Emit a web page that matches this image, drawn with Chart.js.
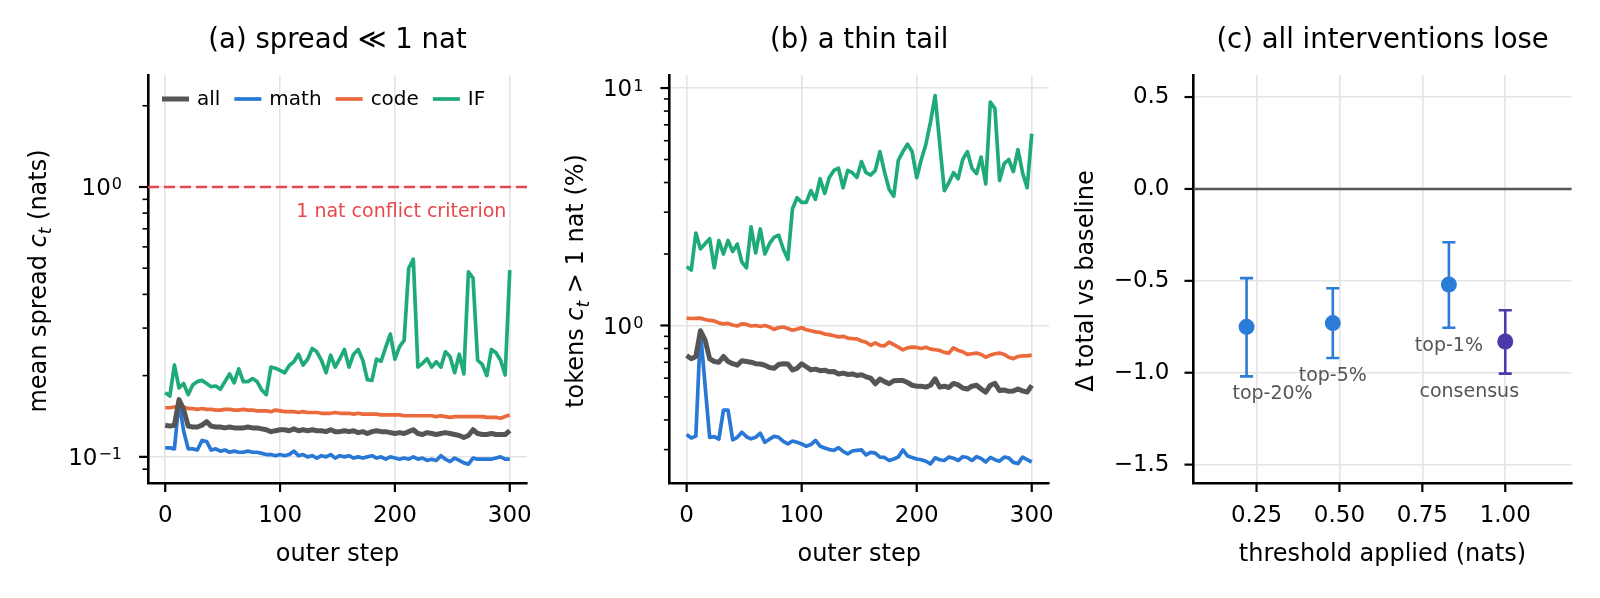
<!DOCTYPE html>
<html>
<head>
<meta charset="utf-8">
<script src="https://cdn.jsdelivr.net/npm/chart.js@4.4.1/dist/chart.umd.min.js"></script>
<style>
  body { margin: 0; background: #fff; }
  #fig { position: relative; width: 1600px; height: 598px; }
  .panel { position: absolute; top: 0; height: 598px; }
</style>
</head>
<body>
<div id="fig">
  <div class="panel" style="left:0;width:540px"><canvas id="chartA"></canvas></div>
  <div class="panel" style="left:540px;width:520px"><canvas id="chartB"></canvas></div>
  <div class="panel" style="left:1060px;width:540px"><canvas id="chartC"></canvas></div>
</div>
<script>
// ---- data ----
const steps = [0,4,8,12,16,20,24,28,32,36,40,44,48,52,56,60,64,68,72,76,80,84,88,92,96,100,104,108,112,116,120,124,128,132,136,140,144,148,152,156,160,164,168,172,176,180,184,188,192,196,200,204,208,212,216,220,224,228,232,236,240,244,248,252,256,260,264,268,272,276,280,284,288,292,296,300];
const seriesNames = ['all', 'math', 'code', 'IF'];

// (a) mean spread c_t (nats)
const spreadAll = [0.131,0.130,0.131,0.163,0.150,0.130,0.129,0.129,0.131,0.135,
  0.130,0.129,0.129,0.128,0.129,0.128,0.128,0.128,0.129,0.128,
  0.128,0.127,0.126,0.124,0.125,0.126,0.126,0.125,0.127,0.125,
  0.126,0.125,0.126,0.125,0.125,0.124,0.126,0.124,0.124,0.125,
  0.124,0.125,0.123,0.124,0.122,0.124,0.125,0.124,0.124,0.123,
  0.122,0.123,0.122,0.124,0.126,0.122,0.121,0.123,0.122,0.121,
  0.122,0.123,0.122,0.121,0.120,0.118,0.120,0.126,0.122,0.121,
  0.121,0.122,0.121,0.121,0.121,0.125];
const spreadMath = [0.108,0.108,0.107,0.160,0.125,0.107,0.107,0.106,0.115,0.114,
  0.106,0.107,0.105,0.106,0.104,0.105,0.104,0.104,0.105,0.104,
  0.104,0.103,0.102,0.102,0.101,0.102,0.101,0.102,0.105,0.101,
  0.102,0.100,0.101,0.099,0.101,0.100,0.102,0.099,0.101,0.100,
  0.101,0.099,0.100,0.099,0.100,0.101,0.099,0.100,0.098,0.100,
  0.099,0.098,0.099,0.098,0.100,0.098,0.099,0.097,0.098,0.097,
  0.101,0.098,0.096,0.099,0.097,0.095,0.094,0.099,0.098,0.098,
  0.098,0.098,0.099,0.100,0.098,0.098];
const spreadCode = [0.152,0.152,0.153,0.154,0.153,0.151,0.151,0.150,0.151,0.150,
  0.150,0.149,0.149,0.150,0.150,0.149,0.149,0.150,0.149,0.149,
  0.148,0.148,0.148,0.147,0.149,0.148,0.147,0.147,0.147,0.146,
  0.147,0.146,0.146,0.146,0.145,0.145,0.145,0.146,0.145,0.145,
  0.145,0.144,0.145,0.144,0.144,0.144,0.144,0.143,0.143,0.143,
  0.143,0.143,0.142,0.142,0.142,0.142,0.142,0.142,0.142,0.141,
  0.142,0.141,0.140,0.141,0.141,0.141,0.141,0.141,0.141,0.141,
  0.140,0.140,0.140,0.139,0.141,0.143];
const spreadIF = [0.173,0.168,0.219,0.180,0.187,0.170,0.185,0.190,0.192,0.187,
  0.182,0.183,0.178,0.190,0.203,0.188,0.212,0.190,0.190,0.195,
  0.190,0.177,0.170,0.215,0.213,0.209,0.205,0.218,0.225,0.240,
  0.219,0.230,0.252,0.245,0.228,0.205,0.238,0.215,0.231,0.250,
  0.215,0.240,0.250,0.228,0.193,0.192,0.230,0.226,0.255,0.285,
  0.230,0.256,0.270,0.500,0.540,0.215,0.222,0.231,0.215,0.225,
  0.215,0.245,0.235,0.205,0.240,0.203,0.485,0.460,0.228,0.220,
  0.200,0.250,0.243,0.228,0.201,0.492];

// (b) tokens with c_t > 1 nat (%)
const tailAll = [0.747,0.724,0.740,0.950,0.870,0.724,0.705,0.700,0.740,0.705,
  0.690,0.680,0.710,0.705,0.700,0.690,0.688,0.680,0.665,0.660,
  0.685,0.690,0.688,0.650,0.660,0.690,0.670,0.650,0.655,0.645,
  0.648,0.638,0.640,0.625,0.630,0.622,0.625,0.616,0.620,0.608,
  0.600,0.568,0.595,0.580,0.568,0.585,0.587,0.587,0.575,0.560,
  0.555,0.555,0.550,0.560,0.596,0.550,0.555,0.548,0.570,0.562,
  0.545,0.540,0.555,0.560,0.540,0.524,0.560,0.570,0.532,0.535,
  0.528,0.530,0.540,0.530,0.524,0.559];
const tailMath = [0.347,0.336,0.342,0.950,0.560,0.338,0.340,0.332,0.440,0.440,
  0.330,0.338,0.355,0.340,0.333,0.338,0.352,0.322,0.332,0.341,
  0.338,0.325,0.317,0.326,0.322,0.317,0.310,0.315,0.328,0.310,
  0.305,0.300,0.298,0.306,0.295,0.288,0.296,0.298,0.299,0.285,
  0.292,0.290,0.279,0.278,0.270,0.274,0.279,0.299,0.282,0.278,
  0.274,0.272,0.268,0.261,0.277,0.272,0.270,0.279,0.276,0.270,
  0.280,0.278,0.270,0.280,0.275,0.266,0.278,0.272,0.268,0.279,
  0.277,0.265,0.262,0.279,0.272,0.266];
const tailCode = [1.074,1.070,1.072,1.074,1.060,1.050,1.045,1.025,1.015,1.020,
  1.005,0.995,1.016,1.010,0.995,1.000,0.990,1.000,0.985,0.962,
  0.980,0.985,0.970,0.955,0.965,0.978,0.960,0.950,0.940,0.935,
  0.920,0.915,0.905,0.895,0.900,0.885,0.880,0.878,0.860,0.850,
  0.825,0.845,0.825,0.820,0.850,0.830,0.810,0.790,0.805,0.810,
  0.808,0.800,0.810,0.795,0.790,0.785,0.770,0.765,0.805,0.785,
  0.775,0.755,0.760,0.765,0.755,0.735,0.750,0.760,0.765,0.755,
  0.735,0.725,0.740,0.745,0.745,0.750];
const tailIF = [1.77,1.71,2.45,2.10,2.21,2.32,1.75,2.28,2.00,2.28,
  2.05,2.20,1.85,1.75,2.60,2.02,2.55,2.00,2.21,2.35,
  2.40,2.10,1.90,3.10,3.45,3.30,3.30,3.70,3.40,4.15,
  3.60,4.20,4.50,4.60,3.80,4.50,4.40,4.20,4.90,4.40,
  4.30,4.50,5.40,4.43,3.75,3.50,4.96,5.40,5.80,5.40,
  4.19,5.00,5.80,7.20,9.30,5.83,3.70,4.00,4.40,4.15,
  5.00,5.40,4.60,4.36,5.12,3.95,8.73,8.19,4.08,4.80,
  5.00,4.45,5.50,4.40,3.80,6.42];

// (c) change in total score vs baseline
const interventions = ['top-20%', 'top-5%', 'top-1%', 'consensus'];
const thresholds = [0.22, 0.48, 0.83, 1.00];
const deltaMean = [-0.75, -0.73, -0.52, -0.83];
const deltaLow = [-1.02, -0.92, -0.755, -1.005];
const deltaHigh = [-0.485, -0.54, -0.29, -0.66];

const stepTicks = [0, 100, 200, 300];
const thresholdTicks = [0.25, 0.50, 0.75, 1.00];
const deltaTicks = [-1.5, -1.0, -0.5, 0.0, 0.5];

// ---- styling ----
const FONT = 'DejaVu Sans';
const seriesColors = ['#555555', '#2a78d6', '#ea6a3c', '#1eab78'];
const seriesWidths = [5.0, 3.7, 3.7, 3.7];
const GRID = '#e4e4e4';
const criterionColor = '#e6484c';
const pointColors = ['#2b7bd8', '#2b7bd8', '#2b7bd8', '#4b3aa8'];
const labelOffsets = [[26, 67], [0, 53], [0, 62], [-36, 51]];

Chart.defaults.font.family = FONT;
Chart.defaults.font.size = 23;
Chart.defaults.color = '#000';
Chart.defaults.animation = false;

function logTicks(min, max) {
  const out = [];
  for (let e = -2; e <= 2; e++) {
    for (let m = 1; m <= 9; m++) {
      const v = +(m * Math.pow(10, e)).toPrecision(3);
      if (v > min * 1.0001 && v <= max) out.push({ value: v, minor: m !== 1 });
    }
  }
  return out;
}
function fixedTicks(list) {
  return s => { s.ticks = list.map(v => ({ value: v })); };
}

function drawParts(ctx, parts, size) {
  const fonts = { n: `${size}px ${FONT}`, i: `italic ${size}px ${FONT}`, s: `italic ${Math.round(size * 0.7)}px ${FONT}` };
  let total = 0;
  parts.forEach(p => { ctx.font = fonts[p[1]]; total += ctx.measureText(p[0]).width; });
  let x = -total / 2;
  ctx.textAlign = 'left';
  ctx.textBaseline = 'alphabetic';
  parts.forEach(p => {
    ctx.font = fonts[p[1]];
    ctx.fillText(p[0], x, p[1] === 's' ? size * 0.22 : 0);
    x += ctx.measureText(p[0]).width;
  });
}

// 10^n tick labels with a real raised exponent, right-aligned
function drawPowerLabels(ctx, scale, right) {
  ctx.save();
  ctx.fillStyle = '#000';
  ctx.textBaseline = 'alphabetic';
  ctx.textAlign = 'right';
  scale.ticks.forEach(t => {
    if (t.minor) return;
    const p = scale.getPixelForValue(t.value);
    const exp = String(Math.round(Math.log10(t.value))).replace('-', '\u2212');
    ctx.font = `16px ${FONT}`;
    const w = ctx.measureText(exp).width;
    ctx.fillText(exp, right, p + 2.5);
    ctx.font = `23px ${FONT}`;
    ctx.fillText('10', right - w - 1, p + 8.4);
  });
  ctx.restore();
}

// ticks, titles and axis labels drawn the matplotlib way
const decor = {
  id: 'decor',
  afterDraw(chart, args, o) {
    const { ctx, chartArea: a, scales } = chart;
    ctx.save();
    ctx.strokeStyle = '#000';
    scales.y.ticks.forEach(t => {
      const p = scales.y.getPixelForValue(t.value);
      const len = t.minor ? 5.5 : 9;
      ctx.lineWidth = t.minor ? 1.6 : 2.2;
      ctx.beginPath(); ctx.moveTo(a.left - len, p); ctx.lineTo(a.left, p); ctx.stroke();
    });
    scales.x.ticks.forEach(t => {
      const p = scales.x.getPixelForValue(t.value);
      ctx.lineWidth = 2.2;
      ctx.beginPath(); ctx.moveTo(p, a.bottom); ctx.lineTo(p, a.bottom + 9); ctx.stroke();
    });
    if (o.powerLabels) drawPowerLabels(ctx, scales.y, a.left - 26);
    const cx = (a.left + a.right) / 2;
    ctx.fillStyle = '#000';
    ctx.textAlign = 'center';
    ctx.textBaseline = 'alphabetic';
    ctx.font = `27.5px ${FONT}`;
    ctx.fillText(o.title, cx, 48);
    ctx.font = `24px ${FONT}`;
    ctx.fillText(o.xlabel, cx, 561);
    ctx.translate(o.ylabelX, (a.top + a.bottom) / 2 + 2);
    ctx.rotate(-Math.PI / 2);
    drawParts(ctx, o.ylabel, 24);
    ctx.restore();
  }
};

// legend inside panel (a), like a frameless 4-column matplotlib legend
const lineLegend = {
  id: 'lineLegend',
  afterDraw(chart, args, o) {
    if (!o.show) return;
    const { ctx, chartArea: a } = chart;
    ctx.save();
    ctx.font = `20px ${FONT}`;
    ctx.textBaseline = 'middle';
    ctx.textAlign = 'left';
    let x = a.left + 14;
    const y = a.top + 24;
    chart.data.datasets.forEach(ds => {
      ctx.strokeStyle = ds.borderColor;
      ctx.lineWidth = ds.borderWidth;
      ctx.beginPath(); ctx.moveTo(x, y); ctx.lineTo(x + 27, y); ctx.stroke();
      x += 35;
      ctx.fillStyle = '#000';
      ctx.fillText(ds.label, x, y + 1);
      x += ctx.measureText(ds.label).width + 14;
    });
    ctx.restore();
  }
};

// 1-nat reference line
const criterion = {
  id: 'criterion',
  beforeDatasetsDraw(chart) {
    const { ctx, chartArea: a, scales: { x, y } } = chart;
    const py = y.getPixelForValue(1);
    ctx.save();
    ctx.strokeStyle = criterionColor;
    ctx.lineWidth = 2.6;
    ctx.setLineDash([11, 5]);
    ctx.beginPath(); ctx.moveTo(a.left, py); ctx.lineTo(a.right, py); ctx.stroke();
    ctx.setLineDash([]);
    ctx.fillStyle = criterionColor;
    ctx.font = `19px ${FONT}`;
    ctx.textAlign = 'right';
    ctx.textBaseline = 'alphabetic';
    ctx.fillText('1 nat conflict criterion', x.getPixelForValue(297), py + 30);
    ctx.restore();
  }
};

// zero line, error bars and point names for panel (c)
const errorBars = {
  id: 'errorBars',
  beforeDatasetsDraw(chart) {
    const { ctx, chartArea: a, scales: { x, y } } = chart;
    ctx.save();
    const p0 = y.getPixelForValue(0);
    ctx.strokeStyle = '#555555';
    ctx.lineWidth = 2.4;
    ctx.beginPath(); ctx.moveTo(a.left, p0); ctx.lineTo(a.right, p0); ctx.stroke();
    thresholds.forEach((t, i) => {
      const px = x.getPixelForValue(t);
      const lo = y.getPixelForValue(deltaLow[i]);
      const hi = y.getPixelForValue(deltaHigh[i]);
      ctx.strokeStyle = pointColors[i];
      ctx.lineWidth = 2.6;
      ctx.beginPath();
      ctx.moveTo(px, lo); ctx.lineTo(px, hi);
      ctx.moveTo(px - 6.5, lo); ctx.lineTo(px + 6.5, lo);
      ctx.moveTo(px - 6.5, hi); ctx.lineTo(px + 6.5, hi);
      ctx.stroke();
    });
    ctx.restore();
  },
  afterDatasetsDraw(chart) {
    const { ctx, scales: { x, y } } = chart;
    ctx.save();
    ctx.fillStyle = '#555555';
    ctx.font = `19px ${FONT}`;
    ctx.textAlign = 'center';
    ctx.textBaseline = 'middle';
    interventions.forEach((name, i) => {
      const px = x.getPixelForValue(thresholds[i]);
      const py = y.getPixelForValue(deltaMean[i]);
      ctx.fillText(name, px + labelOffsets[i][0], py + labelOffsets[i][1]);
    });
    ctx.restore();
  }
};

function lineSets(arrays) {
  return arrays.map((arr, i) => ({
    label: seriesNames[i],
    data: steps.map((s, j) => ({ x: s, y: arr[j] })),
    borderColor: seriesColors[i],
    backgroundColor: seriesColors[i],
    borderWidth: seriesWidths[i],
    pointRadius: 0,
    tension: 0,
    borderJoinStyle: 'round'
  }));
}

function baseOptions(opts) {
  return {
    responsive: true,
    maintainAspectRatio: false,
    layout: { padding: { top: 75, right: opts.right, bottom: 0, left: 0 } },
    plugins: {
      legend: { display: false },
      tooltip: { enabled: false },
      decor: opts.decor,
      lineLegend: { show: !!opts.legend }
    },
    scales: {
      x: Object.assign({
        border: { display: true, color: '#000', width: 2.6 },
        grid: { color: GRID, lineWidth: 1.6, drawTicks: false },
        ticks: { padding: 19, autoSkip: false, maxRotation: 0 },
        afterFit: s => { s.height = 115; s.paddingLeft = 0; s.paddingRight = 0; }
      }, opts.x),
      y: Object.assign({
        border: { display: true, color: '#000', width: 2.6 },
        grid: {
          color: c => (c.tick && c.tick.minor) ? 'rgba(0,0,0,0)' : GRID,
          lineWidth: 1.6, drawTicks: false
        },
        ticks: { padding: opts.yPad, autoSkip: false },
        afterFit: s => { s.width = opts.left; s.paddingTop = 0; s.paddingBottom = 0; }
      }, opts.y)
    }
  };
}

new Chart(document.getElementById('chartA'), {
  type: 'line',
  data: { datasets: lineSets([spreadAll, spreadMath, spreadCode, spreadIF]) },
  options: baseOptions({
    right: 13, left: 148, yPad: 27, legend: true,
    decor: {
      title: '(a) spread \u226a 1 nat', xlabel: 'outer step', ylabelX: 46, powerLabels: true,
      ylabel: [['mean spread ', 'n'], ['c', 'i'], ['t', 's'], [' (nats)', 'n']]
    },
    x: { type: 'linear', min: -15, max: 315, afterBuildTicks: fixedTicks(stepTicks) },
    y: {
      type: 'logarithmic', min: 0.08, max: 2.6,
      afterBuildTicks: s => { s.ticks = logTicks(0.08, 2.6); },
      ticks: { autoSkip: false, callback: () => '' }
    }
  }),
  plugins: [criterion, lineLegend, decor]
});

new Chart(document.getElementById('chartB'), {
  type: 'line',
  data: { datasets: lineSets([tailAll, tailMath, tailCode, tailIF]) },
  options: baseOptions({
    right: 11, left: 129.4, yPad: 27,
    decor: {
      title: '(b) a thin tail', xlabel: 'outer step', ylabelX: 43.3, powerLabels: true,
      ylabel: [['tokens ', 'n'], ['c', 'i'], ['t', 's'], [' > 1 nat (%)', 'n']]
    },
    x: { type: 'linear', min: -15, max: 315, afterBuildTicks: fixedTicks(stepTicks) },
    y: {
      type: 'logarithmic', min: 0.217, max: 11.35,
      afterBuildTicks: s => { s.ticks = logTicks(0.217, 11.35); },
      ticks: { autoSkip: false, callback: () => '' }
    }
  }),
  plugins: [decor]
});

new Chart(document.getElementById('chartC'), {
  type: 'scatter',
  data: {
    datasets: [{
      label: 'interventions',
      data: thresholds.map((t, i) => ({ x: t, y: deltaMean[i] })),
      pointBackgroundColor: pointColors,
      pointBorderWidth: 0,
      pointRadius: 8
    }]
  },
  options: baseOptions({
    right: 28.4, left: 133.5, yPad: 24,
    decor: {
      title: '(c) all interventions lose', xlabel: 'threshold applied (nats)', ylabelX: 32.7,
      ylabel: [['\u0394 total vs baseline', 'n']]
    },
    x: {
      type: 'linear', min: 0.06, max: 1.2, afterBuildTicks: fixedTicks(thresholdTicks),
      ticks: { padding: 19, autoSkip: false, maxRotation: 0, callback: v => v.toFixed(2) }
    },
    y: {
      type: 'linear', min: -1.6, max: 0.62, afterBuildTicks: fixedTicks(deltaTicks),
      ticks: { padding: 24, autoSkip: false, callback: v => v.toFixed(1).replace('-', '\u2212') }
    }
  }),
  plugins: [errorBars, decor]
});
</script>
</body>
</html>
